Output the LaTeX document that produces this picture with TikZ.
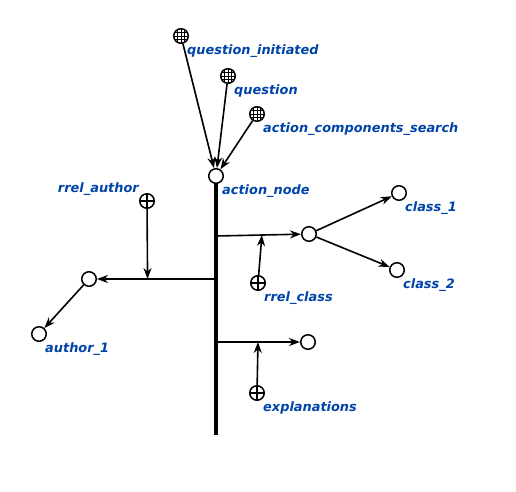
\documentclass[tikz,border=0pt]{standalone}
\usepackage{fontspec}
\setsansfont{DejaVu Sans}
\usetikzlibrary{arrows.meta}
\definecolor{scblue}{RGB}{0,68,170}

\begin{document}
\begin{tikzpicture}[
		x=1pt, y=-1pt,
		scnode/.style={draw, circle, fill=white, minimum size=14.5pt, inner sep=0pt, line width=1.5pt},
		scclass/.style={scnode, path picture={
				\foreach \d in {-3.5,0,3.5} {
					\draw[line width=0.7pt] ([xshift=\d pt]path picture bounding box.north) -- ([xshift=\d pt]path picture bounding box.south);
					\draw[line width=0.7pt] ([yshift=\d pt]path picture bounding box.west) -- ([yshift=\d pt]path picture bounding box.east);
				}
			}},
		scrole/.style={scnode, path picture={
				\draw[line width=1.3pt] (path picture bounding box.north) -- (path picture bounding box.south);
				\draw[line width=1.3pt] (path picture bounding box.west) -- (path picture bounding box.east);
			}},
		sclbl/.style={text=scblue, inner sep=0pt, anchor=base west,
			font=\sffamily\bfseries\itshape\fontsize{12.9}{14}\selectfont},
		scarc/.style={line width=1.6pt, -{Stealth[length=11pt, width=8pt, inset=3.5pt]}},
		scbus/.style={line width=4.5pt}
		]
		
		\useasboundingbox (0,0) rectangle (516,491);
		
		% bus of the action node
		\coordinate (busend) at (216,435);
		\coordinate (bauthor) at (216,279);
		\coordinate (bclass) at (216,236);
		\coordinate (bexpl) at (216,342);
		\draw[scbus] (216,176) -- (busend);
		
		\node[scnode] (action) at (216,176) {};
		\node[sclbl] at ([shift={(6,18)}]action) {action\_node};
		
		\node[scclass] (qinit) at (181,36) {};
		\node[sclbl] at ([shift={(6,18)}]qinit) {question\_initiated};
		\node[scclass] (quest) at (228,76) {};
		\node[sclbl] at ([shift={(6,18)}]quest) {question};
		\node[scclass] (acsearch) at (257,114) {};
		\node[sclbl] at ([shift={(6,18)}]acsearch) {action\_components\_search};
		
		\draw[scarc] (qinit) -- (action);
		\draw[scarc] (quest) -- (action);
		\draw[scarc] (acsearch) -- (action);
		
		% classes
		\node[scnode] (classes) at (309,234) {};
		\node[scnode] (class1) at (399,193) {};
		\node[sclbl] at ([shift={(6,18)}]class1) {class\_1};
		\node[scnode] (class2) at (397,270) {};
		\node[sclbl] at ([shift={(6,18)}]class2) {class\_2};
		\node[scrole] (rclass) at (258,283) {};
		\node[sclbl] at ([shift={(6,18)}]rclass) {rrel\_class};
		
		\draw[scarc] (bclass) -- coordinate[pos=0.54] (mclass) (classes);
		\draw[scarc] (classes) -- (class1);
		\draw[scarc] (classes) -- (class2);
		\draw[scarc] (rclass) -- (mclass);
		
		% author
		\node[scnode] (author) at (89,279) {};
		\node[scnode] (author1) at (39,334) {};
		\node[sclbl] at ([shift={(6,18)}]author1) {author\_1};
		\node[scrole] (rauthor) at (147,201) {};
		\node[sclbl, anchor=base east] at ([shift={(-8,-9)}]rauthor) {rrel\_author};
		
		\draw[scarc] (bauthor) -- coordinate[pos=0.575] (mauthor) (author);
		\draw[scarc] (author) -- (author1);
		\draw[scarc] (rauthor) -- (mauthor);
		
		% explanations
		\node[scnode] (expltarget) at (308,342) {};
		\node[scrole] (rexpl) at (257,393) {};
		\node[sclbl] at ([shift={(6,18)}]rexpl) {explanations};
		
		\draw[scarc] (bexpl) -- coordinate[pos=0.5] (mexpl) (expltarget);
		\draw[scarc] (rexpl) -- (mexpl);
		
	\end{tikzpicture}
\end{document}
